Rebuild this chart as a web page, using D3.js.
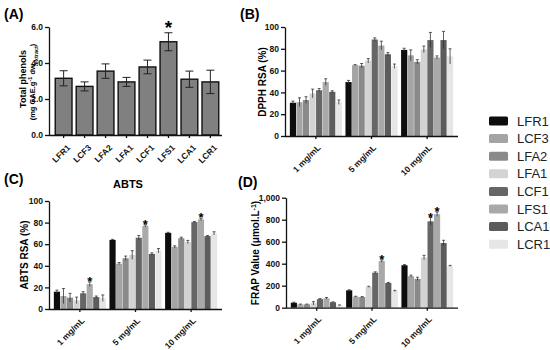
<!DOCTYPE html>
<html>
<head>
<meta charset="utf-8">
<title>Phenols and antioxidant activity</title>
<script src="https://d3js.org/d3.v7.min.js"></script>
<style>
  body { margin: 0; background: #fff; }
  svg text { font-family: Arial, "Liberation Sans", sans-serif; }
  .tick text { font-size: 8.5px; font-weight: bold; fill: #111; }
  .axis path, .axis line { stroke: #111; stroke-width: 1.3; }
  .ylab { font-size: 10px; font-weight: bold; }
  .panel { font-size: 14px; font-weight: bold; }
</style>
</head>
<body>
<div id="chart"></div>
<script>
// ---- data ----
var extracts = ["LFR1", "LCF3", "LFA2", "LFA1", "LCF1", "LFS1", "LCA1", "LCR1"];
var colors = ["#0d0d0d", "#a4a4a4", "#8a8a8a", "#d3d3d3", "#666666", "#a9a9a9", "#5c5c5c", "#e6e6e6"];
var doses = ["1 mg/mL", "5 mg/mL", "10 mg/mL"];

// (A) total phenols
var phenols = [3.15, 2.7, 3.55, 2.95, 3.78, 5.18, 3.1, 2.95];
var phenolsErr = [0.42, 0.25, 0.4, 0.25, 0.38, 0.5, 0.45, 0.65];
var phenolsStar = ["LFS1"];

// (B) DPPH RSA %
var dpph1 = [30.5, 31, 33, 39, 42, 49.5, 40.5, 31];
var dpph5 = [49.5, 65, 64.5, 69, 88.5, 83, 75, 64];
var dpph10 = [79, 74, 68, 79.5, 88, 72, 88, 73];
var dpph1Err = [1.5, 4, 3, 4, 1.5, 3, 1, 2];
var dpph5Err = [1.5, 0.5, 2, 2, 1.5, 4, 1.5, 2];
var dpph10Err = [1.5, 5, 2, 3, 7, 1.5, 8, 7];

// (C) ABTS RSA %
var abts1 = [16, 12, 10.5, 8, 14.5, 23, 11, 10];
var abts5 = [64, 42, 47, 50, 66, 77, 51, 54];
var abts10 = [70.5, 57.5, 65.5, 62, 80.5, 83, 67.5, 70];
var abts1Err = [1.5, 7, 4, 3, 1.5, 2, 1, 3];
var abts5Err = [0.5, 1, 2, 4, 2, 1, 1, 2];
var abts10Err = [0.5, 1, 1, 1.5, 0.5, 1, 0.5, 1.5];
var abtsStars = [["1 mg/mL", "LFS1"], ["5 mg/mL", "LFS1"], ["10 mg/mL", "LFS1"]];

// (D) FRAP µmol/L
var frap1 = [45, 30, 30, 40, 78, 85, 50, 22];
var frap5 = [158, 100, 97, 190, 318, 425, 225, 152];
var frap10 = [386, 286, 262, 456, 785, 850, 588, 380];
var frap1Err = [5, 3, 3, 15, 5, 8, 3, 3];
var frap5Err = [5, 4, 4, 5, 8, 10, 5, 6];
var frap10Err = [6, 10, 15, 20, 35, 20, 25, 5];
var frapStars = [["5 mg/mL", "LFS1"], ["10 mg/mL", "LCF1"], ["10 mg/mL", "LFS1"]];

var svg = d3.select("#chart").append("svg")
  .attr("width", 550)
  .attr("height", 350);

var color = d3.scaleOrdinal().domain(extracts).range(colors);

function toRows(vals, errs) {
  // vals/errs: arrays per dose
  var rows = [];
  doses.forEach(function(dose, i) {
    extracts.forEach(function(ex, j) {
      rows.push({dose: dose, ex: ex, v: vals[i][j], e: errs[i][j]});
    });
  });
  return rows;
}

function yAxisLabel(g, x, y, build) {
  var t = g.append("text").attr("class", "ylab")
    .attr("transform", "translate(" + x + "," + y + ") rotate(-90)")
    .attr("text-anchor", "middle");
  build(t);
  return t;
}

// grouped panel
function grouped(opt) {
  var g = svg.append("g");
  var x0 = d3.scaleBand().domain(doses).range(opt.xr).paddingInner(0.05).paddingOuter(0.08);
  var x1 = d3.scaleBand().domain(extracts).range([0, x0.bandwidth()]).padding(0.06);
  var y = d3.scaleLinear().domain([0, opt.max]).range(opt.yr);

  var rows = toRows(opt.vals, opt.errs);

  g.selectAll("rect.bar").data(rows).enter().append("rect")
    .attr("class", "bar")
    .attr("x", function(d) { return x0(d.dose) + x1(d.ex); })
    .attr("width", x1.bandwidth())
    .attr("y", function(d) { return y(d.v); })
    .attr("height", function(d) { return y(0) - y(d.v); })
    .attr("fill", function(d) { return color(d.ex); });

  var eb = g.selectAll("g.err").data(rows).enter().append("g")
    .attr("class", "err")
    .attr("stroke", "#333").attr("stroke-width", 0.8);
  function cx(d) { return x0(d.dose) + x1(d.ex) + x1.bandwidth() / 2; }
  eb.append("line")
    .attr("x1", cx).attr("x2", cx)
    .attr("y1", function(d) { return y(d.v - d.e); })
    .attr("y2", function(d) { return y(d.v + d.e); });
  eb.append("line")
    .attr("x1", function(d) { return cx(d) - 1.5; })
    .attr("x2", function(d) { return cx(d) + 1.5; })
    .attr("y1", function(d) { return y(d.v + d.e); })
    .attr("y2", function(d) { return y(d.v + d.e); });

  (opt.stars || []).forEach(function(s) {
    var r = rows.find(function(d) { return d.dose === s[0] && d.ex === s[1]; });
    g.append("text")
      .attr("x", cx(r)).attr("y", y(r.v + r.e) + 4)
      .attr("text-anchor", "middle")
      .style("font-size", "13px").style("font-weight", "bold")
      .text("*");
  });

  var ax = g.append("g").attr("class", "axis")
    .attr("transform", "translate(0," + opt.yr[0] + ")")
    .call(d3.axisBottom(x0).tickSize(3).tickSizeOuter(0));
  ax.select(".domain").attr("d", "M" + opt.axisX + ",0.5H" + opt.xr[1]);
  ax.selectAll(".tick text")
    .attr("text-anchor", "end")
    .attr("dx", 0).attr("dy", 0)
    .attr("transform", "translate(1,8) rotate(-45)");

  g.append("g").attr("class", "axis")
    .attr("transform", "translate(" + opt.axisX + ",0)")
    .call(d3.axisLeft(y).tickValues(opt.ticks).tickSize(4).tickSizeOuter(0).tickPadding(2));

  return g;
}

// ---- (A) ----
(function() {
  var g = svg.append("g");
  var x = d3.scaleBand().domain(extracts).range([50, 224]).paddingInner(0.2).paddingOuter(0.25);
  var y = d3.scaleLinear().domain([0, 6]).range([135, 27]);

  g.selectAll("rect").data(extracts).enter().append("rect")
    .attr("x", function(d) { return x(d); })
    .attr("width", x.bandwidth())
    .attr("y", function(d, i) { return y(phenols[i]); })
    .attr("height", function(d, i) { return y(0) - y(phenols[i]); })
    .attr("fill", "#808080").attr("stroke", "#111").attr("stroke-width", 1.4);

  var cx = function(d) { return x(d) + x.bandwidth() / 2; };
  var eb = g.selectAll("g.err").data(extracts).enter().append("g")
    .attr("stroke", "#222").attr("stroke-width", 1);
  eb.append("line")
    .attr("x1", cx).attr("x2", cx)
    .attr("y1", function(d, i) { return y(phenols[i] - phenolsErr[i]); })
    .attr("y2", function(d, i) { return y(phenols[i] + phenolsErr[i]); });
  [1, -1].forEach(function(sgn) {
    eb.append("line")
      .attr("x1", function(d) { return cx(d) - 4; })
      .attr("x2", function(d) { return cx(d) + 4; })
      .attr("y1", function(d, i) { return y(phenols[i] + sgn * phenolsErr[i]); })
      .attr("y2", function(d, i) { return y(phenols[i] + sgn * phenolsErr[i]); });
  });

  phenolsStar.forEach(function(s) {
    var i = extracts.indexOf(s);
    g.append("text")
      .attr("x", cx(s)).attr("y", y(phenols[i] + phenolsErr[i]) + 1)
      .attr("text-anchor", "middle")
      .style("font-size", "19px").style("font-weight", "bold")
      .text("*");
  });

  var ax = g.append("g").attr("class", "axis")
    .attr("transform", "translate(0,135)")
    .call(d3.axisBottom(x).tickSize(3).tickSizeOuter(0));
  ax.select(".domain").attr("d", "M49,0.5H222");
  ax.selectAll(".tick text")
    .attr("text-anchor", "end").attr("dy", 0)
    .attr("transform", "translate(3,9) rotate(-45)");

  g.append("g").attr("class", "axis")
    .attr("transform", "translate(49,0)")
    .call(d3.axisLeft(y).tickValues([0, 2, 4, 6]).tickSize(4).tickSizeOuter(0).tickPadding(2));

  g.append("text").attr("class", "panel").attr("x", 4).attr("y", 19).text("(A)");
  yAxisLabel(g, 26, 79, function(t) { t.text("Total phenols"); }).style("font-size", "9px");
  yAxisLabel(g, 35, 82, function(t) {
    t.append("tspan").text("(mg GAE.g");
    t.append("tspan").attr("baseline-shift", "super").style("font-size", "5.5px").text("-1");
    t.append("tspan").text(" dw");
    t.append("tspan").attr("baseline-shift", "sub").style("font-size", "5.5px").text("extract");
    t.append("tspan").text(")");
  }).style("font-size", "7.5px");
})();

// ---- (B) ----
var gB = grouped({
  xr: [285, 458], axisX: 285, yr: [136, 27], max: 100,
  ticks: [0, 20, 40, 60, 80, 100],
  vals: [dpph1, dpph5, dpph10], errs: [dpph1Err, dpph5Err, dpph10Err]
});
gB.append("text").attr("class", "panel").attr("x", 240).attr("y", 19).text("(B)");
yAxisLabel(gB, 266, 82, function(t) { t.text("DPPH RSA (%)"); });

// ---- (C) ----
var gC = grouped({
  xr: [49, 222], axisX: 49, yr: [309, 201], max: 100,
  ticks: [0, 20, 40, 60, 80, 100],
  vals: [abts1, abts5, abts10], errs: [abts1Err, abts5Err, abts10Err],
  stars: abtsStars
});
gC.append("text").attr("class", "panel").attr("x", 4).attr("y", 184).text("(C)");
gC.append("text").attr("x", 128).attr("y", 188).attr("text-anchor", "middle")
  .style("font-size", "11px").style("font-weight", "bold").text("ABTS");
yAxisLabel(gC, 28, 255, function(t) { t.text("ABTS RSA (%)"); });

// ---- (D) ----
var gD = grouped({
  xr: [286, 458], axisX: 286, yr: [307.7, 197.7], max: 1000,
  ticks: [0, 200, 400, 600, 800, 1000],
  vals: [frap1, frap5, frap10], errs: [frap1Err, frap5Err, frap10Err],
  stars: frapStars
});
gD.append("text").attr("class", "panel").attr("x", 238).attr("y", 187).text("(D)");
yAxisLabel(gD, 259, 253, function(t) {
  t.append("tspan").text("FRAP Value (\u03bcmol.L");
  t.append("tspan").attr("baseline-shift", "super").style("font-size", "7px").text("-1");
  t.append("tspan").text(")");
});

// ---- legend ----
var leg = svg.append("g").selectAll("g").data(extracts).enter().append("g")
  .attr("transform", function(d, i) { return "translate(489," + (121 + i * 17.6) + ")"; });
leg.append("rect")
  .attr("x", 0).attr("y", -4.5).attr("width", 19).attr("height", 9).attr("rx", 1.5)
  .attr("fill", function(d) { return color(d); });
leg.append("text")
  .attr("x", 28).attr("y", 4.5)
  .style("font-size", "13px").style("fill", "#222")
  .text(function(d) { return d; });
</script>
</body>
</html>
